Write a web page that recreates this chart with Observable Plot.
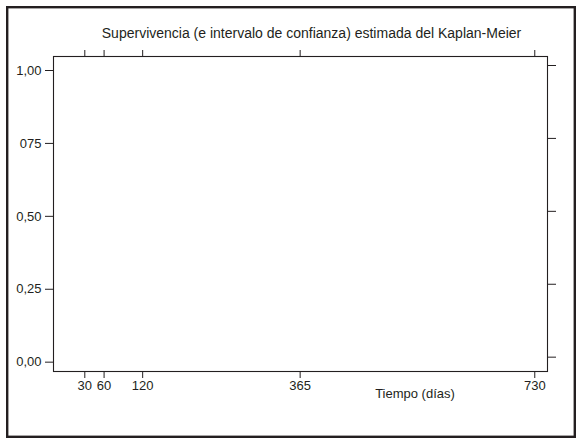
<!DOCTYPE html>
<html>
<head>
<meta charset="utf-8">
<script src="https://cdn.jsdelivr.net/npm/d3@7"></script>
<script src="https://cdn.jsdelivr.net/npm/@observablehq/plot@0.6"></script>
<style>
  html, body { margin: 0; padding: 0; background: #ffffff; }
  #wrap { position: relative; width: 581px; height: 444px; overflow: hidden; background: #ffffff; }
  #wrap svg.plot { position: absolute; left: 0; top: 0; }
  #border { position: absolute; left: 0; top: 0; pointer-events: none; }
</style>
</head>
<body>
<div id="wrap"></div>
<script>
// ---- data ----
const chartTitle = "Supervivencia (e intervalo de confianza) estimada del Kaplan-Meier";
const xLabel = "Tiempo (días)";
const xTicks = [30, 60, 120, 365, 730];
const yTicks = [0, 0.25, 0.5, 0.75, 1];
const yTickLabels = ["0,00", "0,25", "0,50", "075", "1,00"];

const ink = "#231f20";
const font = "'Liberation Sans', Arial, Helvetica, sans-serif";
const yLabelOf = new Map(yTicks.map((v, i) => [v, yTickLabels[i]]));

const chart = Plot.plot({
  width: 581,
  height: 444,
  marginLeft: 53,
  marginTop: 56,
  marginRight: 34,
  marginBottom: 73,
  style: { fontFamily: font, fontSize: "13px", color: ink, background: "transparent", overflow: "visible" },
  x: { domain: [-18.7, 749.8] },
  y: { domain: [-0.032, 1.048] },
  marks: [
    Plot.frame({ stroke: ink, strokeWidth: 1.1 }),
    Plot.axisX({ anchor: "bottom", ticks: xTicks, tickSize: 7, tickPadding: 2, label: null, fontSize: 13, stroke: ink, fill: ink }),
    Plot.axisX({ anchor: "top", ticks: xTicks, tickSize: 7, tickFormat: () => "", label: null, stroke: ink }),
    Plot.axisY({ anchor: "left", ticks: yTicks, tickSize: 8, tickPadding: 4, tickFormat: d => yLabelOf.get(d), label: null, fontSize: 13, stroke: ink, fill: ink }),
    Plot.axisY({ anchor: "right", ticks: yTicks, tickSize: 8, tickFormat: () => "", label: null, dy: -5, stroke: ink }),
    Plot.text([chartTitle], { frameAnchor: "top", text: d => d, dx: 11, dy: -19, lineAnchor: "bottom", fontSize: 14, fill: ink }),
    Plot.text([xLabel], { frameAnchor: "bottom", text: d => d, dx: 114.5, dy: 26, lineAnchor: "bottom", fontSize: 13, fill: ink })
  ]
});
chart.classList.add("plot");
const wrap = document.getElementById("wrap");
wrap.appendChild(chart);

// outer box border
const ns = "http://www.w3.org/2000/svg";
const b = document.createElementNS(ns, "svg");
b.setAttribute("id", "border");
b.setAttribute("width", 581);
b.setAttribute("height", 444);
const r = document.createElementNS(ns, "rect");
r.setAttribute("x", 7.2);
r.setAttribute("y", 7.2);
r.setAttribute("width", 567.6);
r.setAttribute("height", 429.6);
r.setAttribute("fill", "none");
r.setAttribute("stroke", ink);
r.setAttribute("stroke-width", 2.4);
b.appendChild(r);
wrap.appendChild(b);
</script>
</body>
</html>
